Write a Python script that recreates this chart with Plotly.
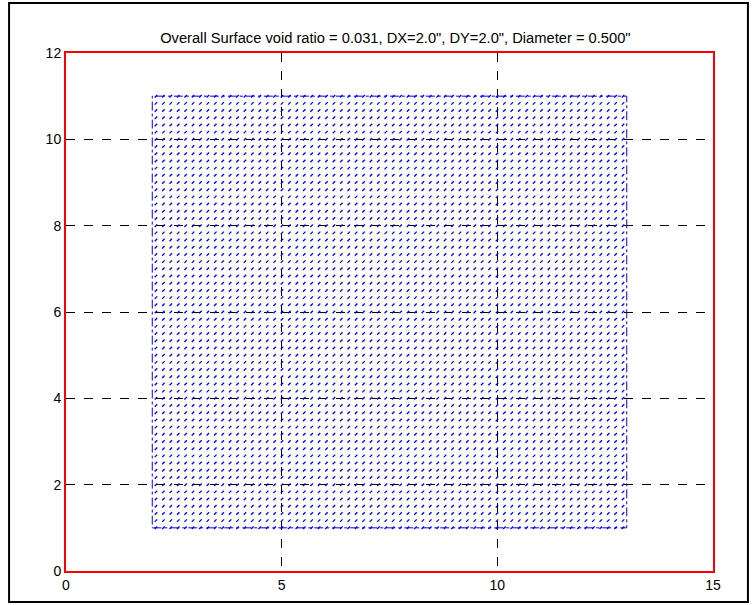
import numpy as np
import plotly.graph_objects as go

title_text = 'Overall Surface void ratio = 0.031, DX=2.0", DY=2.0", Diameter = 0.500"'
x_ticks = [0, 5, 10, 15]
y_ticks = [0, 2, 4, 6, 8, 10, 12]

# hole pattern region and counts
region_x = [2.0, 13.0]
region_y = [1.0, 11.0]
n_cols = 65
n_rows = 61

xs = np.linspace(region_x[0], region_x[1], n_cols)
ys = np.linspace(region_y[0], region_y[1], n_rows)
gx, gy = np.meshgrid(xs[:-1] + (xs[1] - xs[0]) / 2, ys)

outline_x = [region_x[0], region_x[1], region_x[1], region_x[0], region_x[0]]
outline_y = [region_y[0], region_y[0], region_y[1], region_y[1], region_y[0]]

fig = go.Figure()
fig.add_trace(go.Scatter(
    x=gx.ravel(), y=gy.ravel(), mode="markers",
    marker=dict(symbol="line-ne", size=2.5, color="blue",
                line=dict(color="blue", width=1.3)),
    hoverinfo="skip", showlegend=False))
fig.add_trace(go.Scatter(
    x=outline_x, y=outline_y, mode="lines",
    line=dict(color="blue", width=1, dash="dashdot"),
    hoverinfo="skip", showlegend=False))

axis_common = dict(showline=True, linecolor="red", linewidth=2, mirror=True,
                   showgrid=True, gridcolor="black", gridwidth=1, griddash="dash",
                   zeroline=False, ticks="", tickfont=dict(family="Liberation Sans, Arial", size=14, color="black"))

fig.update_layout(
    width=756, height=605,
    margin=dict(l=66, r=43, t=53, b=34),
    paper_bgcolor="white", plot_bgcolor="white",
    title=dict(text=title_text, xref="paper", x=0.509, xanchor="center", y=0.937, yanchor="middle",
               font=dict(family="Liberation Sans, Arial", size=14.7, color="black")),
    xaxis=dict(range=[0, 15], tickvals=x_ticks, **axis_common),
    yaxis=dict(range=[0, 12], tickvals=y_ticks, **axis_common),
    shapes=[dict(type="rect", xref="paper", yref="paper",
                 x0=-0.088, x1=1.054, y0=-0.0598, y1=1.0965,
                 line=dict(color="black", width=2), layer="below")],
)

fig.write_html("out.html")
